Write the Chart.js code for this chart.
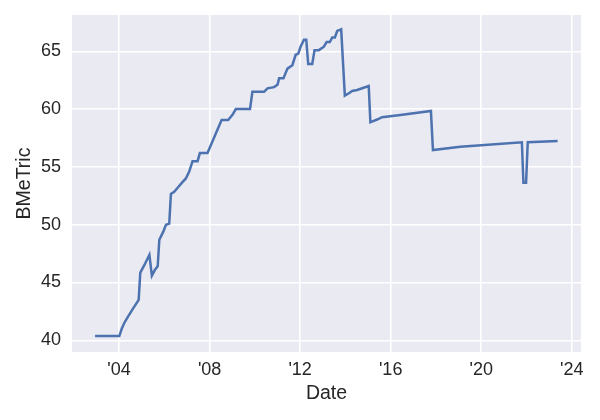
<!DOCTYPE html>
<html>
<head>
<meta charset="utf-8">
<script src="https://cdn.jsdelivr.net/npm/chart.js@4"></script>
<style>
  html, body { margin: 0; padding: 0; background: #fff; }
  #wrap { width: 600px; height: 420px; }
</style>
</head>
<body>
<div id="wrap"><canvas id="chart" width="600" height="420"></canvas></div>
<script>
// values
const dates = [
  '2002-12-10', '2004-01-05', '2004-02-13', '2004-03-25', '2004-05-20', '2004-08-08',
  '2004-11-13', '2004-12-09', '2005-02-12', '2005-05-05', '2005-06-14', '2005-08-03',
  '2005-09-16', '2005-10-12', '2005-12-15', '2006-01-27', '2006-03-21', '2006-04-17',
  '2006-06-09', '2006-08-04', '2006-10-06', '2006-12-14', '2007-02-06', '2007-04-01',
  '2007-06-21', '2007-07-28', '2007-11-28', '2008-07-13', '2008-10-27', '2009-01-05',
  '2009-02-28', '2009-10-15', '2009-11-22', '2010-05-29', '2010-07-23', '2010-11-07',
  '2011-01-01', '2011-01-27', '2011-04-07', '2011-06-10', '2011-08-29', '2011-10-21',
  '2011-12-03', '2012-01-08', '2012-03-03', '2012-04-09', '2012-05-11', '2012-07-15',
  '2012-08-21', '2012-10-30', '2013-01-19', '2013-03-04', '2013-04-25', '2013-06-03',
  '2013-07-15', '2013-08-22', '2013-10-25', '2013-12-23', '2014-02-26', '2014-04-21',
  '2014-07-10', '2014-09-28', '2015-01-12', '2015-02-08', '2015-05-27', '2015-08-15',
  '2016-06-06', '2017-10-12', '2017-11-14', '2019-01-29', '2021-10-19', '2021-11-13',
  '2021-12-26', '2022-01-22', '2023-05-19'
];
const bmetric = [
  40.37, 40.37, 41.0, 41.5, 42.0, 42.7,
  43.5, 45.85, 46.5, 47.4, 45.6, 46.1,
  46.4, 48.7, 49.4, 50.0, 50.1, 52.66,
  52.85, 53.2, 53.6, 54.0, 54.6, 55.5,
  55.5, 56.2, 56.2, 59.06, 59.06, 59.5,
  60.0, 60.0, 61.5, 61.5, 61.8, 61.9,
  62.1, 62.66, 62.66, 63.5, 63.8, 64.7,
  64.8, 65.4, 66.0, 66.0, 63.9, 63.9,
  65.1, 65.1, 65.4, 65.8, 65.8, 66.2,
  66.2, 66.76, 66.9, 61.16, 61.37, 61.57,
  61.65, 61.8, 62.0, 58.86, 59.1, 59.3,
  59.5, 59.84, 56.46, 56.75, 57.13, 53.63,
  53.63, 57.13, 57.24
];
const xTicks = [2004, 2008, 2012, 2016, 2020, 2024];
const yTicks = [40, 45, 50, 55, 60, 65];

// date string -> fractional year, so a plain linear axis can be used
function toYear(s) {
  const d = new Date(s + 'T00:00:00Z');
  const y = d.getUTCFullYear();
  const start = Date.UTC(y, 0, 1);
  const end = Date.UTC(y + 1, 0, 1);
  return y + (d.getTime() - start) / (end - start);
}

const points = dates.map((d, i) => ({ x: toYear(d), y: bmetric[i] }));

const FONT = '"Liberation Sans", Arial, sans-serif';
const TEXT = '#262626';

const plotBg = {
  id: 'plotBg',
  beforeDraw(chart) {
    const { ctx, chartArea: a } = chart;
    ctx.save();
    ctx.fillStyle = '#EAEAF2';
    ctx.fillRect(a.left, a.top, a.right - a.left, a.bottom - a.top);
    ctx.restore();
  }
};

new Chart(document.getElementById('chart'), {
  type: 'line',
  data: {
    datasets: [{
      label: 'BMeTric',
      data: points,
      borderColor: '#4C72B0',
      borderWidth: 2.5,
      pointRadius: 0,
      tension: 0,
      fill: false
    }]
  },
  options: {
    responsive: false,
    animation: false,
    layout: { padding: { left: 0, top: 15, right: 19, bottom: 0 } },
    plugins: { legend: { display: false }, tooltip: { enabled: false } },
    scales: {
      x: {
        type: 'linear',
        min: 2001.92,
        max: 2024.41,
        afterBuildTicks: s => { s.ticks = xTicks.map(v => ({ value: v })); },
        afterFit: s => { s.height = 68; s.paddingLeft = 0; s.paddingRight = 0; },
        grid: { color: '#ffffff', lineWidth: 1.6, drawTicks: false },
        border: { display: false },
        ticks: {
          padding: 7,
          maxRotation: 0,
          color: TEXT,
          font: { family: FONT, size: 18 },
          callback: v => "'" + String(v).slice(2)
        },
        title: {
          display: true,
          text: 'Date',
          color: TEXT,
          font: { family: FONT, size: 19.5 },
          padding: { top: 0, bottom: 15 }
        }
      },
      y: {
        min: 38.99,
        max: 68.14,
        afterBuildTicks: s => { s.ticks = yTicks.map(v => ({ value: v })); },
        afterFit: s => { s.width = 72; s.paddingTop = 0; s.paddingBottom = 0; },
        grid: { color: '#ffffff', lineWidth: 1.6, drawTicks: false },
        border: { display: false },
        ticks: {
          padding: 11,
          color: TEXT,
          font: { family: FONT, size: 18 }
        },
        title: {
          display: true,
          text: 'BMeTric',
          color: TEXT,
          font: { family: FONT, size: 19.5 },
          padding: { top: 13, bottom: 0 }
        }
      }
    }
  },
  plugins: [plotBg]
});
</script>
</body>
</html>
